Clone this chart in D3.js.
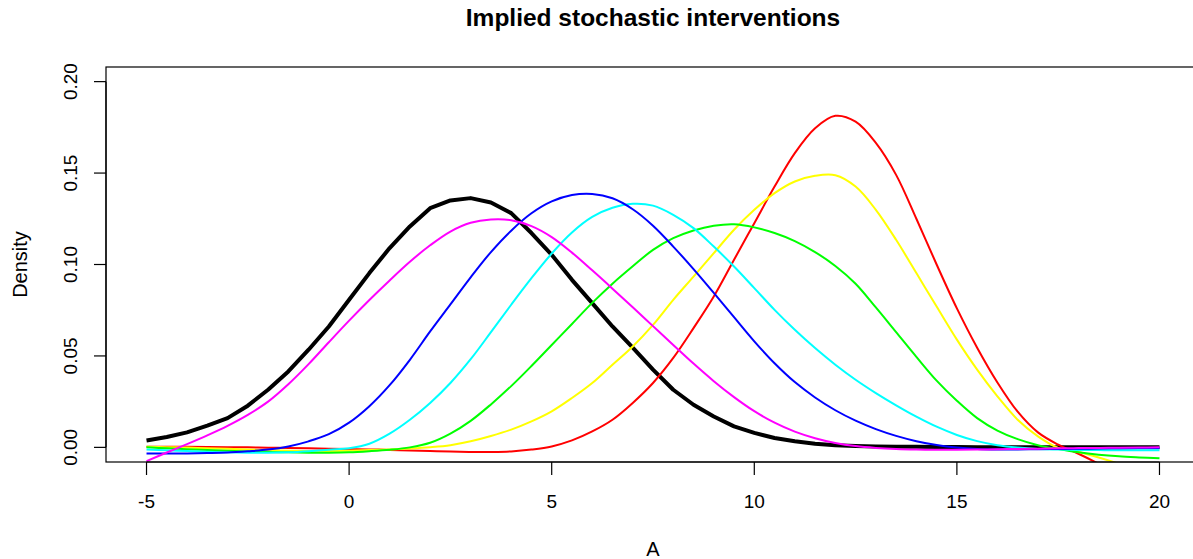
<!DOCTYPE html>
<html lang="en">
<head>
    <meta charset="UTF-8">
    <title>Implied stochastic interventions</title>
    <script src="https://cdnjs.cloudflare.com/ajax/libs/d3/7.8.5/d3.min.js"></script>
    <style>
        html, body {
            margin: 0;
            padding: 0;
            background: #fff;
        }
        svg text {
            font-family: "Liberation Sans", Arial, Helvetica, sans-serif;
            fill: #000;
        }
        .axis line {
            stroke: #000;
            stroke-width: 1.2px;
        }
    </style>
</head>
<body>
    <div id="chart"></div>
    <script>
        const aGrid = [-5, -4.5, -4, -3.5, -3, -2.5, -2, -1.5, -1, -0.5,
            0, 0.5, 1, 1.5, 2, 2.5, 3, 3.5, 4, 4.5,
            5, 5.5, 6, 6.5, 7, 7.5, 8, 8.5, 9, 9.5,
            10, 10.5, 11, 11.5, 12, 12.5, 13, 13.5, 14, 14.5,
            15, 15.5, 16, 16.5, 17, 17.5, 18, 18.5, 19, 19.5, 20];

        // observed density (thick black)
        const observed = [0.0038, 0.0057, 0.0082, 0.0119, 0.016, 0.0228, 0.0315, 0.0415, 0.0534, 0.0661,
            0.0807, 0.0953, 0.109, 0.1208, 0.1308, 0.135, 0.1363, 0.1339, 0.1281, 0.1172,
            0.1053, 0.0916, 0.0789, 0.0661, 0.0545, 0.0425, 0.0315, 0.0233, 0.0169, 0.0115,
            0.0079, 0.0051, 0.0033, 0.002, 0.0011, 0.0007, 0.0005, 0.0004, 0.0003, 0.0002,
            0.0002, 0.0001, 0.0001, 0.0001, 0.0001, 0.0, 0.0, 0.0, 0.0, 0.0, 0.0];

        const redVals = [0.0004, 0.0004, 0.0003, 0.0002, 0.0001, 0.0, -0.0002, -0.0003, -0.0005, -0.0007,
            -0.0009, -0.0011, -0.0014, -0.0017, -0.002, -0.0023, -0.0025, -0.0025, -0.0022, -0.0012,
            0.0005, 0.0038, 0.0087, 0.0151, 0.0243, 0.0352, 0.0489, 0.0652, 0.0825, 0.1026,
            0.1226, 0.1426, 0.1609, 0.1745, 0.1813, 0.1781, 0.1665, 0.149, 0.125, 0.1,
            0.076, 0.0545, 0.0355, 0.0195, 0.0082, 0.0015, -0.0035, -0.009, -0.015, -0.021, -0.027];

        const yellowVals = [0.0003, 0.0001, -0.0001, -0.0005, -0.0008, -0.0012, -0.0015, -0.0018, -0.002, -0.002,
            -0.0018, -0.0015, -0.0011, -0.0006, 0.0001, 0.0012, 0.0033, 0.0062, 0.0097, 0.0142,
            0.0197, 0.027, 0.0352, 0.0452, 0.0552, 0.067, 0.0807, 0.0934, 0.1062, 0.119,
            0.1299, 0.139, 0.1454, 0.1485, 0.1488, 0.1426, 0.1299, 0.1135, 0.0953, 0.077,
            0.0589, 0.0425, 0.0279, 0.0151, 0.006, -0.0003, -0.0025, -0.0055, -0.009, -0.013, -0.017];

        const greenVals = [0.0, -0.0005, -0.001, -0.0015, -0.0019, -0.0022, -0.0025, -0.0027, -0.0029, -0.0029,
            -0.0027, -0.0021, -0.0013, 0.0, 0.0025, 0.0075, 0.0145, 0.0235, 0.0335, 0.0445,
            0.056, 0.0675, 0.079, 0.0895, 0.099, 0.108, 0.1144, 0.1186, 0.1212, 0.122,
            0.1203, 0.1172, 0.1128, 0.1068, 0.0992, 0.0895, 0.0765, 0.063, 0.0495, 0.0365,
            0.0255, 0.016, 0.0092, 0.0045, 0.0012, -0.0009, -0.0027, -0.004, -0.0049, -0.0055, -0.006];

        const cyanVals = [-0.0012, -0.0016, -0.002, -0.0024, -0.0027, -0.0029, -0.003, -0.0027, -0.0021, -0.0013,
            -0.0005, 0.002, 0.0075, 0.0151, 0.0243, 0.0352, 0.0482, 0.063, 0.078, 0.0925,
            0.106, 0.1175, 0.126, 0.131, 0.1332, 0.1322, 0.1272, 0.1199, 0.1098, 0.0989,
            0.0871, 0.0752, 0.0643, 0.0543, 0.0452, 0.037, 0.0297, 0.023, 0.0168, 0.0113,
            0.0068, 0.0034, 0.0012, -0.0001, -0.0009, -0.0012, -0.0014, -0.0015, -0.0016, -0.0016, -0.0016];

        const blueVals = [-0.0034, -0.0034, -0.0033, -0.0031, -0.0028, -0.0021, -0.0012, 0.0005, 0.0033, 0.0072,
            0.0135, 0.0225, 0.034, 0.0479, 0.0634, 0.0782, 0.093, 0.1068, 0.1185, 0.128,
            0.1345, 0.138, 0.1386, 0.1362, 0.1302, 0.1212, 0.1098, 0.0975, 0.0845, 0.0712,
            0.058, 0.046, 0.0357, 0.0273, 0.0203, 0.0146, 0.01, 0.0063, 0.0034, 0.0013,
            -0.0001, -0.0009, -0.0012, -0.0012, -0.001, -0.0009, -0.0008, -0.0006, -0.0005, -0.0004, -0.0003];

        const magentaVals = [-0.0075, -0.0028, 0.0018, 0.0066, 0.0118, 0.0178, 0.025, 0.0345, 0.0455, 0.0575,
            0.0693, 0.0806, 0.0913, 0.1015, 0.1105, 0.118, 0.1228, 0.1246, 0.1242, 0.121,
            0.115, 0.1065, 0.0968, 0.0868, 0.0766, 0.0663, 0.056, 0.0458, 0.0362, 0.0275,
            0.0198, 0.0135, 0.0086, 0.005, 0.0024, 0.0007, -0.0003, -0.0009, -0.0012, -0.0013,
            -0.0013, -0.0012, -0.001, -0.0009, -0.0007, -0.0005, -0.0004, -0.0003, -0.0002, -0.0001, 0.0];

        const interventions = [
            { name: "red", color: "#ff0000", values: redVals },
            { name: "yellow", color: "#ffff00", values: yellowVals },
            { name: "green", color: "#00ff00", values: greenVals },
            { name: "cyan", color: "#00ffff", values: cyanVals },
            { name: "blue", color: "#0000ff", values: blueVals },
            { name: "magenta", color: "#ff00ff", values: magentaVals }
        ];

        const xTicks = [-5, 0, 5, 10, 15, 20];
        const yTicks = [0, 0.05, 0.1, 0.15, 0.2];

        const width = 1193;
        const height = 559;
        const plot = { left: 106, right: 1200, top: 67, bottom: 462 };

        const svg = d3.select("#chart")
            .append("svg")
            .attr("width", width)
            .attr("height", height);

        const x = d3.scaleLinear().domain([-6, 21]).range([plot.left, plot.right]);
        const y = d3.scaleLinear().domain([-0.008, 0.208]).range([plot.bottom, plot.top]);

        svg.append("defs").append("clipPath")
            .attr("id", "plot-clip")
            .append("rect")
            .attr("x", plot.left)
            .attr("y", plot.top)
            .attr("width", plot.right - plot.left)
            .attr("height", plot.bottom - plot.top);

        const line = d3.line()
            .x((d, i) => x(aGrid[i]))
            .y(d => y(d));

        const lines = svg.append("g").attr("clip-path", "url(#plot-clip)");

        lines.append("path")
            .datum(observed)
            .attr("fill", "none")
            .attr("stroke", "#000")
            .attr("stroke-width", 4)
            .attr("stroke-linejoin", "round")
            .attr("d", line);

        const smoothLine = d3.line()
            .x((d, i) => x(aGrid[i]))
            .y(d => y(d))
            .curve(d3.curveCatmullRom);

        lines.selectAll("path.intervention")
            .data(interventions)
            .join("path")
            .attr("class", "intervention")
            .attr("fill", "none")
            .attr("stroke", d => d.color)
            .attr("stroke-width", 2)
            .attr("d", d => smoothLine(d.values));

        // box around the plot region
        svg.append("rect")
            .attr("x", plot.left)
            .attr("y", plot.top)
            .attr("width", plot.right - plot.left)
            .attr("height", plot.bottom - plot.top)
            .attr("fill", "none")
            .attr("stroke", "#000")
            .attr("stroke-width", 1.2);

        // x axis, R style
        const xAxis = svg.append("g")
            .attr("class", "axis")
            .attr("transform", `translate(0,${plot.bottom})`);
        xAxis.append("line")
            .attr("x1", x(xTicks[0]))
            .attr("x2", x(xTicks[xTicks.length - 1]));
        xAxis.selectAll("line.tick")
            .data(xTicks)
            .join("line")
            .attr("class", "tick")
            .attr("x1", d => x(d))
            .attr("x2", d => x(d))
            .attr("y1", 0)
            .attr("y2", 13);
        xAxis.selectAll("text")
            .data(xTicks)
            .join("text")
            .attr("x", d => x(d))
            .attr("y", 46)
            .attr("text-anchor", "middle")
            .style("font-size", "19px")
            .text(d => String(d));

        // y axis, labels parallel to the axis
        const yAxis = svg.append("g")
            .attr("class", "axis")
            .attr("transform", `translate(${plot.left},0)`);
        yAxis.append("line")
            .attr("y1", y(yTicks[0]))
            .attr("y2", y(yTicks[yTicks.length - 1]));
        yAxis.selectAll("line.tick")
            .data(yTicks)
            .join("line")
            .attr("class", "tick")
            .attr("x1", 0)
            .attr("x2", -12)
            .attr("y1", d => y(d))
            .attr("y2", d => y(d));
        yAxis.selectAll("text")
            .data(yTicks)
            .join("text")
            .attr("transform", d => `translate(-29,${y(d)}) rotate(-90)`)
            .attr("text-anchor", "middle")
            .style("font-size", "19px")
            .text(d => d3.format(".2f")(d));

        // titles
        svg.append("text")
            .attr("x", (plot.left + plot.right) / 2)
            .attr("y", 26)
            .attr("text-anchor", "middle")
            .style("font-size", "24.5px")
            .style("font-weight", "bold")
            .text("Implied stochastic interventions");

        svg.append("text")
            .attr("x", (plot.left + plot.right) / 2)
            .attr("y", 556)
            .attr("text-anchor", "middle")
            .style("font-size", "20px")
            .text("A");

        svg.append("text")
            .attr("transform", `translate(27,${(plot.top + plot.bottom) / 2}) rotate(-90)`)
            .attr("text-anchor", "middle")
            .style("font-size", "20px")
            .text("Density");
    </script>
</body>
</html>
